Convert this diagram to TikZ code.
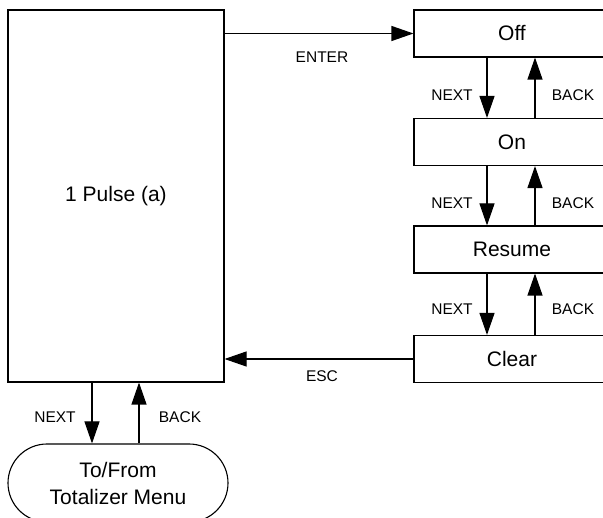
\documentclass[tikz,border=0pt]{standalone}
\usepackage{fontspec}
\setmainfont{Liberation Sans}
\usetikzlibrary{arrows.meta}
\begin{document}
\begin{tikzpicture}[x=1pt,y=-1pt,
  box/.style={draw, line width=1.1pt, inner sep=0pt, font=\fontsize{21}{24}\selectfont},
  menubox/.style={box, minimum width=196pt, minimum height=47pt},
  lbl/.style={font=\fontsize{15.5}{18}\selectfont, inner sep=0pt},
  arr/.style={line width=1.1pt, -{Triangle[length=22pt,width=15pt]}},
  ]
\useasboundingbox (0,0) rectangle (603,518);
\clip (0,0) rectangle (603,518);
\node[box, minimum width=216pt, minimum height=372pt] (pulse) at (116,196) {1 Pulse (a)};
\node[menubox] (off) at (512,33.5) {Off};
\node[menubox] (on) at (512,142) {On};
\node[menubox] (resume) at (512,249.5) {Resume};
\node[menubox] (clear) at (512,359) {Clear};
\node[box, rounded corners=39pt, minimum width=220pt, minimum height=78pt, align=center,
      font=\fontsize{21}{27}\selectfont] (menu) at (118,483) {To/From\\Totalizer Menu};
% ENTER / ESC
\draw[arr] (pulse.east |- off.west) -- (off.west);
\draw[arr] (clear.west) -- (pulse.east |- clear.west);
\node[lbl] (enter) at (322,57) {ENTER};
\node[lbl] (esc) at (322,376) {ESC};
% vertical arrows right column
\draw[arr] ([xshift=-25pt]off.south) -- ([xshift=-25pt]on.north);
\draw[arr] ([xshift=23pt]on.north) -- ([xshift=23pt]off.south);
\draw[arr] ([xshift=-25pt]on.south) -- ([xshift=-25pt]resume.north);
\draw[arr] ([xshift=23pt]resume.north) -- ([xshift=23pt]on.south);
\draw[arr] ([xshift=-25pt]resume.south) -- ([xshift=-25pt]clear.north);
\draw[arr] ([xshift=23pt]clear.north) -- ([xshift=23pt]resume.south);
\node[lbl] (n1) at (452,95) {NEXT};
\node[lbl] (b1) at (573,95) {BACK};
\node[lbl] (n2) at (452,203) {NEXT};
\node[lbl] (b2) at (573,203) {BACK};
\node[lbl] (n3) at (452,309) {NEXT};
\node[lbl] (b3) at (573,309) {BACK};
% bottom arrows
\draw[arr] ([xshift=-24pt]pulse.south) -- ([xshift=-24pt]pulse.south |- menu.north);
\draw[arr] ([xshift=23pt]pulse.south |- menu.north) -- ([xshift=23pt]pulse.south);
\node[lbl] (n4) at (55,417) {NEXT};
\node[lbl] (b4) at (180,417) {BACK};
\end{tikzpicture}
\end{document}
